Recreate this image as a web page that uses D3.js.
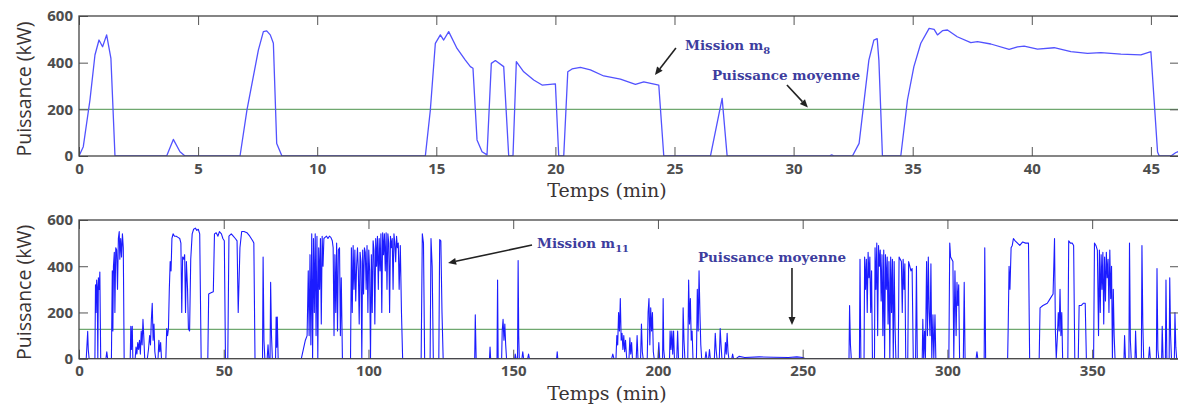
<!DOCTYPE html>
<html>
<head>
<meta charset="utf-8">
<script src="https://cdn.jsdelivr.net/npm/d3@7"></script>
<style>
  body { margin: 0; background: #fff; }
  svg { display: block; }
</style>
</head>
<body>
<svg id="chart"></svg>
<script>
// --- data (time in min, power in kW) ---
const topPoints = [
  [0,0],[0.18,40],[0.46,240],[0.67,433],[0.84,497],[0.99,468],[1.16,519],[1.34,418],[1.51,0],
  [3.68,0],[3.96,71],[4.24,18],[4.45,0],
  [6.76,0],[7.05,197],[7.53,454],[7.74,533],[7.88,536],[8.03,519],[8.16,483],[8.3,54],[8.52,0],
  [14.54,0],[14.75,197],[14.96,483],[15.17,519],[15.31,497],[15.52,533],[15.87,461],[16.22,411],[16.43,383],[16.54,376],
  [16.71,69],[16.92,18],[17.13,5],[17.31,397],[17.48,409],[17.83,383],[18.04,0],[18.22,0],
  [18.36,404],[18.67,361],[19.09,326],[19.44,304],[20.0,309],[20.14,0],[20.35,0],
  [20.52,361],[20.7,373],[21.05,380],[21.47,369],[22.03,343],[22.73,329],[23.36,307],[23.71,318],[24.34,304],[24.55,0],
  [26.51,0],[27.0,247],[27.21,0],[31.5,0],[31.6,5],[31.7,0],
  [32.47,0],[32.75,54],[33.16,411],[33.37,497],[33.51,503],[33.58,411],[33.73,0],
  [34.5,0],[34.78,240],[35.05,383],[35.34,483],[35.69,547],[35.9,543],[36.04,519],[36.25,537],[36.46,540],
  [36.87,511],[37.44,486],[37.72,490],[38.28,480],[39.05,457],[39.4,468],[39.68,471],[40.24,458],[40.94,464],
  [41.64,447],[42.34,440],[42.9,443],[43.74,437],[44.58,433],[45.0,447],[45.28,17],[45.35,0],
  [45.84,0],[46.05,15],[46.18,20]
];
const bottomPoints = [
  [0,0],[2.5,0],[2.8,70],[3.0,118],[3.2,40],[3.5,0],
  [5.5,0],[5.7,320],[5.9,200],[6.1,340],[6.3,310],[6.5,0],[6.7,350],[7.0,300],[7.2,375],[7.5,0],
  [9.3,0],[9.6,30],[9.9,0],
  [11.2,0],[11.5,380],[11.7,120],[11.9,400],[12.2,460],[12.4,200],[12.7,480],[13.0,470],[13.3,300],[13.6,520],
  [13.9,550],[14.1,430],[14.4,520],[14.7,440],[15.0,540],[15.3,480],[15.6,0],
  [17.7,0],[17.9,140],[18.1,40],[18.4,140],[18.6,0],
  [19.4,0],[19.7,50],[20.0,20],[20.3,70],[20.6,40],[20.9,80],[21.2,20],[21.5,120],[21.8,60],[22.1,170],[22.4,90],[22.7,0],
  [23.6,0],[24.0,40],[24.4,100],[24.7,60],[25.0,170],[25.3,240],[25.6,80],[25.9,150],[26.2,30],[26.5,0],
  [27.3,0],[27.6,80],[27.9,30],[28.2,70],[28.5,0],
  [30.0,0],[30.3,130],[30.6,100],[30.9,130],[31.2,300],[31.5,420],[31.8,380],[32.1,520],[32.5,540],[33.0,530],
  [33.6,530],[34.2,525],[34.8,520],[35.2,500],[35.5,200],[35.8,440],[36.2,430],[36.5,450],[36.8,200],[37.1,420],
  [37.5,300],[37.8,130],[38.2,120],[38.6,430],[39.1,540],[39.6,560],[40.2,565],[40.7,555],[41.2,560],[41.7,540],[42.2,0],
  [44.5,0],[44.8,280],[45.6,285],[46.4,290],[46.8,540],[47.4,545],[48.0,530],[48.5,550],[49.2,540],[49.7,520],
  [50.2,510],[50.6,0],[51.4,0],[51.8,530],[52.6,540],[53.3,530],[54.0,520],[54.6,510],[55.0,200],[55.6,480],
  [56.2,550],[57.0,550],[58.0,545],[59.0,530],[60.0,510],[60.4,500],[60.8,0],
  [63.4,0],[63.6,440],[63.9,80],[64.2,0],[65.0,0],[65.3,60],[65.6,0],[66.0,0],[66.2,330],[66.5,100],[66.8,0],
  [67.9,0],[68.1,180],[68.3,50],[68.5,180],[68.8,0],
  [76.8,0],[77.5,40],[78.2,80],[78.8,100],[79.2,380],[79.5,100],[79.8,450],[80.1,60],[80.4,540],[80.7,0],
  [81.0,520],[81.3,200],[81.6,540],[81.9,100],[82.2,530],[82.5,0],[82.8,480],[83.1,300],[83.4,520],[83.7,150],
  [84.0,530],[84.3,400],[84.6,520],[85.0,525],[85.5,530],[86.0,520],[86.5,530],[87.0,525],[87.5,510],[87.8,480],
  [88.1,100],[88.4,450],[88.7,200],[89.0,500],[89.3,120],[89.6,470],[90.0,480],[90.3,100],[90.6,350],[91.0,0],
  [93.8,0],[94.1,480],[94.4,200],[94.7,490],[95.0,300],[95.3,470],[95.6,250],[95.9,400],[96.2,480],[96.5,380],
  [96.8,150],[97.1,460],[97.4,420],[97.7,0],[98.0,470],[98.3,280],[98.6,480],[98.9,460],[99.2,300],[99.5,490],
  [99.8,200],[100.1,470],[100.4,380],[100.7,0],[101.0,450],[101.3,200],[101.6,510],[101.9,470],[102.2,150],
  [102.5,520],[102.8,400],[103.1,530],[103.4,300],[103.7,520],[104.0,380],[104.3,540],[104.6,200],[104.9,545],
  [105.2,450],[105.5,540],[105.8,380],[106.1,545],[106.4,300],[106.7,540],[107.0,500],[107.3,200],[107.6,530],
  [107.9,480],[108.2,520],[108.5,300],[108.8,540],[109.1,500],[109.4,420],[109.7,530],[110.0,480],[110.3,500],
  [110.6,300],[111.0,490],[111.4,200],[111.8,0],
  [118.2,0],[118.6,540],[119.0,500],[119.4,0],[121.3,0],[121.6,520],[122.0,400],[122.4,0],
  [124.3,0],[124.6,515],[125.0,510],[125.4,200],[125.8,0],
  [136.7,0],[136.9,190],[137.2,0],[141.8,0],[142.0,50],[142.2,0],[144.4,0],[144.6,340],[144.8,0],
  [146.0,0],[146.2,120],[146.5,170],[146.8,80],[147.1,150],[147.4,60],[147.7,0],
  [150.5,0],[150.7,20],[151.0,0],[151.5,0],[151.7,425],[151.9,100],[152.1,0],
  [153.0,0],[153.3,30],[153.6,0],[155.0,0],[155.3,20],[155.6,0],[165.0,0],[165.2,30],[165.4,0],
  [184.0,0],[184.4,20],[184.8,0],
  [185.5,0],[185.8,100],[186.1,60],[186.4,200],[186.7,120],[187.0,260],[187.3,80],[187.6,110],[187.9,40],
  [188.2,100],[188.5,30],[188.8,80],[189.2,0],
  [190.0,0],[190.3,90],[190.6,20],[190.9,70],[191.2,0],[192.5,0],[192.8,100],[193.1,0],
  [194.0,0],[194.3,150],[194.6,30],[194.9,0],
  [196.3,0],[196.6,200],[196.9,260],[197.2,60],[197.5,220],[197.8,120],[198.1,200],[198.4,30],[198.7,0],
  [200.0,0],[200.3,70],[200.6,0],[201.6,0],[201.8,260],[202.0,40],[202.3,0],
  [204.0,0],[204.2,120],[204.5,40],[204.8,120],[205.1,20],[205.4,120],[205.7,0],[206.5,0],[206.8,120],[207.1,0],
  [208.5,0],[208.7,220],[209.0,80],[209.3,0],
  [210.3,0],[210.6,340],[210.9,150],[211.2,260],[211.5,80],[211.8,120],[212.1,0],
  [213.3,0],[213.6,300],[213.9,120],[214.2,380],[214.5,200],[214.8,60],[215.1,0],
  [216.3,0],[216.6,30],[216.9,0],[217.5,0],[217.8,40],[218.1,0],
  [219.5,0],[219.8,110],[220.1,40],[220.4,0],[221.2,0],[221.5,130],[221.8,60],[222.1,0],
  [223.0,0],[223.3,70],[223.6,20],[223.9,110],[224.2,30],[224.5,0],[225.5,0],[225.8,20],[226.1,0],
  [227.0,0],[228.0,10],[230.0,5],[235.0,8],[240.0,6],[245.0,5],[248.0,8],[250.0,5],[251.0,0],
  [266.0,0],[266.2,230],[266.5,60],[266.8,0],[269.6,0],[269.8,430],[270.1,0],
  [271.2,0],[271.4,440],[271.7,300],[272.0,430],[272.3,200],[272.6,460],[272.9,350],[273.2,440],[273.5,200],
  [273.8,380],[274.1,0],
  [274.8,0],[275.0,480],[275.3,300],[275.6,500],[275.9,100],[276.2,490],[276.5,400],[276.8,470],[277.1,250],
  [277.4,450],[277.7,100],[278.0,470],[278.3,0],[278.6,450],[278.9,300],[279.2,440],[279.5,150],[279.8,420],
  [280.1,0],[280.4,440],[280.7,200],[281.0,430],[281.3,0],[281.6,420],[281.9,140],[282.2,0],
  [283.0,0],[283.3,440],[283.7,430],[284.1,420],[284.4,200],[284.7,430],[285.0,300],[285.3,410],[285.6,0],
  [286.3,0],[286.6,420],[287.0,400],[287.4,380],[287.8,390],[288.2,0],[289.0,0],[289.3,400],[289.6,0],
  [291.3,0],[291.5,170],[291.8,0],[292.1,120],[292.4,0],[292.8,420],[293.1,100],[293.4,440],[293.7,200],
  [294.0,100],[294.3,410],[294.6,0],[295.0,190],[295.3,0],[295.7,190],[296.0,0],
  [300.5,0],[300.8,500],[301.1,440],[301.5,430],[301.9,420],[302.2,0],[302.6,380],[303.0,100],[303.3,330],
  [303.6,230],[303.9,320],[304.2,0],[305.5,0],[305.8,330],[306.1,0],
  [309.9,0],[310.2,30],[310.5,0],[312.7,0],[312.9,480],[313.2,0],
  [320.8,0],[321.0,140],[321.3,400],[321.6,300],[322.0,480],[322.4,490],[322.8,520],[323.4,510],[324.2,500],
  [325.0,490],[326.0,505],[327.0,500],[328.0,500],[328.4,0],
  [331.7,0],[332.0,220],[333.0,230],[334.5,240],[335.5,260],[336.5,280],[337.0,520],[337.3,120],[337.6,0],
  [338.0,100],[338.3,200],[338.6,120],[338.9,300],[339.2,100],[339.5,200],[339.8,0],
  [341.6,0],[341.9,510],[342.5,500],[343.1,500],[343.6,490],[344.0,0],
  [345.2,0],[345.5,230],[346.2,230],[347.0,240],[347.6,240],[348.0,0],
  [350.5,0],[350.8,500],[351.3,490],[351.8,470],[352.2,100],[352.5,470],[352.8,200],[353.1,450],[353.4,300],
  [353.7,460],[354.0,150],[354.3,440],[354.6,250],[354.9,460],[355.2,350],[355.5,430],[355.8,200],[356.1,470],
  [356.4,260],[356.7,400],[357.0,0],[357.3,300],[357.6,100],[357.9,0],
  [361.0,0],[361.2,100],[361.5,0],[362.7,0],[362.9,500],[363.2,80],[363.5,0],[364.8,0],[365.0,120],[365.3,0],
  [367.0,0],[367.2,490],[367.5,150],[367.8,0],[369.5,0],[369.8,50],[370.1,0],
  [372.2,0],[372.4,390],[372.7,40],[373.0,0],[374.0,0],[374.2,140],[374.5,0],[375.3,0],[375.5,340],[375.8,0],
  [376.6,0],[376.8,350],[377.1,100],[377.4,0],[378.4,0],[378.6,200],[378.9,50],[379.2,0],[380,0]
];

const topXTicks = [0, 5, 10, 15, 20, 25, 30, 35, 40, 45];
const bottomXTicks = [0, 50, 100, 150, 200, 250, 300, 350];
const yTicks = [0, 200, 400, 600];
const topAverage = 200;
const bottomAverage = 127;

const W = 1178, H = 407;
const plotLeft = 79, plotRight = 1179;

const svg = d3.select("#chart").attr("width", W).attr("height", H);

function drawPanel(cfg) {
  const x = d3.scaleLinear().domain([0, cfg.xMax]).range([plotLeft, plotRight]);
  const y = d3.scaleLinear().domain([0, 600]).range([cfg.bottom, cfg.top]);
  const g = svg.append("g");

  const clipId = "clip" + cfg.id;
  svg.append("clipPath").attr("id", clipId)
    .append("rect")
    .attr("x", plotLeft).attr("y", cfg.top - 2)
    .attr("width", plotRight - plotLeft).attr("height", cfg.bottom - cfg.top + 2);

  // average power
  g.append("line")
    .attr("x1", plotLeft).attr("x2", plotRight)
    .attr("y1", y(cfg.avg)).attr("y2", y(cfg.avg))
    .attr("stroke", "#6fa86f").attr("stroke-width", 1.2);

  // power trace
  g.append("path")
    .datum(cfg.points)
    .attr("clip-path", `url(#${clipId})`)
    .attr("fill", "none")
    .attr("stroke", cfg.color)
    .attr("stroke-width", cfg.lineWidth)
    .attr("stroke-linejoin", "round")
    .attr("d", d3.line().x(d => x(d[0])).y(d => y(d[1])));

  // axes with inward ticks, box style
  const tickFont = g => g.attr("font-family", "'Open Sans', sans-serif")
    .attr("font-size", 15).attr("font-weight", "bold");

  const xAxis = g.append("g")
    .attr("transform", `translate(0,${cfg.bottom})`)
    .call(d3.axisBottom(x).tickValues(cfg.xTicks).tickSize(-9).tickPadding(5).tickFormat(d3.format("d")))
    .call(tickFont);
  xAxis.selectAll("text").attr("dy", "0.85em");

  g.append("g")
    .attr("transform", `translate(0,${cfg.top})`)
    .call(d3.axisTop(x).tickValues(cfg.xTicks).tickSize(-9).tickFormat(""));

  g.append("g")
    .attr("transform", `translate(${plotLeft},0)`)
    .call(d3.axisLeft(y).tickValues(yTicks).tickSize(-9).tickPadding(6))
    .call(tickFont);

  g.append("g")
    .attr("transform", `translate(${plotRight},0)`)
    .call(d3.axisRight(y).tickValues(yTicks).tickSize(-9).tickFormat(""));

  g.selectAll(".domain").remove();
  g.selectAll(".tick line").attr("stroke", "#555");
  g.selectAll(".tick text").attr("fill", "#4d4d4d");

  g.append("rect")
    .attr("x", plotLeft).attr("y", cfg.top)
    .attr("width", plotRight - plotLeft).attr("height", cfg.bottom - cfg.top)
    .attr("fill", "none").attr("stroke", "#444").attr("stroke-width", 1.3);

  // axis titles
  g.append("text")
    .attr("transform", `translate(23,${(cfg.top + cfg.bottom) / 2 + 3}) rotate(-90)`)
    .attr("text-anchor", "middle")
    .attr("dominant-baseline", "central")
    .attr("font-family", "'Open Sans', sans-serif")
    .attr("font-size", 19.5)
    .attr("fill", "#3a3434")
    .text("Puissance (kW)");

  g.append("text")
    .attr("x", 607).attr("y", cfg.bottom + 41)
    .attr("text-anchor", "middle")
    .attr("font-family", "'DejaVu Serif', serif")
    .attr("font-size", 19)
    .attr("fill", "#3a3434")
    .text("Temps (min)");

  // annotations
  const ann = g.append("g")
    .attr("font-family", "'DejaVu Serif', serif")
    .attr("font-weight", "bold")
    .attr("font-size", 13.5)
    .attr("fill", "#3d3d9e");

  cfg.labels.forEach(l => {
    const t = ann.append("text").attr("x", x(l.t)).attr("y", y(l.p)).text(l.text);
    if (l.sub) {
      t.append("tspan").attr("dy", 4).attr("font-size", 10).text(l.sub);
    }
  });

  cfg.arrows.forEach(a => {
    const x1 = x(a.from[0]), y1 = y(a.from[1]);
    const x2 = x(a.to[0]), y2 = y(a.to[1]);
    const ang = Math.atan2(y2 - y1, x2 - x1);
    const len = 8, half = 3.5;
    const bx = x2 - len * Math.cos(ang), by = y2 - len * Math.sin(ang);
    g.append("line")
      .attr("x1", x1).attr("y1", y1).attr("x2", bx).attr("y2", by)
      .attr("stroke", "#222").attr("stroke-width", 1.6);
    g.append("path")
      .attr("d", `M${x2},${y2}L${bx + half * Math.sin(ang)},${by - half * Math.cos(ang)}L${bx - half * Math.sin(ang)},${by + half * Math.cos(ang)}Z`)
      .attr("fill", "#222");
  });
}

drawPanel({
  id: "top", top: 16, bottom: 156, xMax: 46.18,
  points: topPoints, avg: topAverage, xTicks: topXTicks,
  color: "#5252ff", lineWidth: 1.3,
  labels: [
    { t: 25.44, p: 454, text: "Mission m", sub: "8" },
    { t: 26.57, p: 326, text: "Puissance moyenne" }
  ],
  arrows: [
    { from: [25.06, 463], to: [24.18, 347] },
    { from: [29.72, 304], to: [30.6, 208] }
  ]
});

drawPanel({
  id: "bottom", top: 220, bottom: 358.7, xMax: 380,
  points: bottomPoints, avg: bottomAverage, xTicks: bottomXTicks,
  color: "#1c1cff", lineWidth: 1.1,
  labels: [
    { t: 158.2, p: 479, text: "Mission m", sub: "11" },
    { t: 213.8, p: 418, text: "Puissance moyenne" }
  ],
  arrows: [
    { from: [156.5, 492], to: [127.5, 414] },
    { from: [246.3, 392], to: [246.3, 146] }
  ]
});
</script>
</body>
</html>
